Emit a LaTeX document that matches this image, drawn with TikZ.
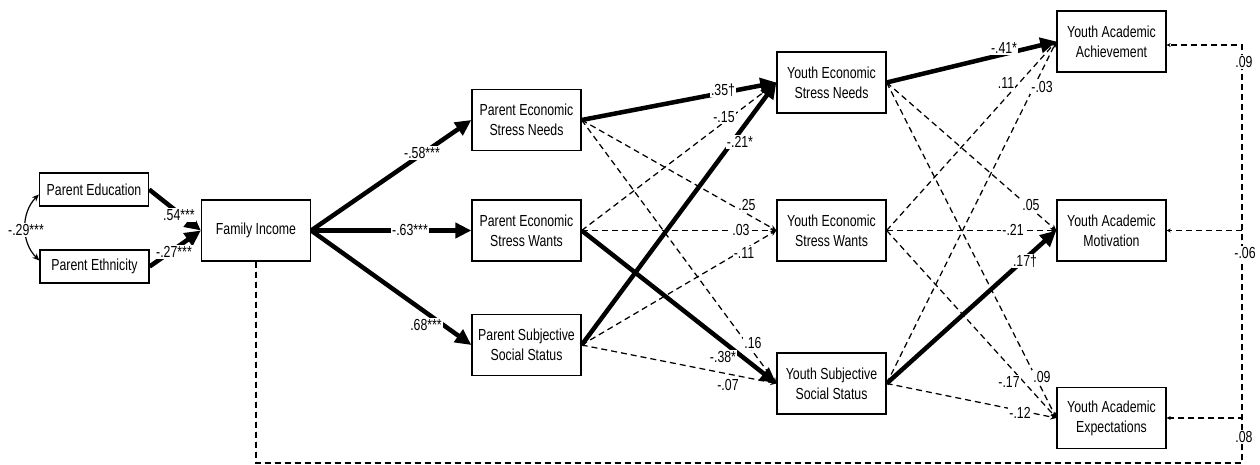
\documentclass[tikz,border=0pt]{standalone}
\usepackage{fontspec}
\setmainfont{Liberation Sans}[FakeStretch=0.77]
\usetikzlibrary{arrows.meta}
\tikzset{
  box/.style={draw, line width=1.3pt, minimum width=109pt, minimum height=61pt, inner sep=0pt, align=center, font=\fontsize{16}{20}\selectfont},
  sbox/.style={box, minimum height=33pt},
  strong/.style={line width=4.5pt, -{Triangle[length=16pt,width=15pt]}},
  weak/.style={line width=1.25pt, dash pattern=on 6pt off 4pt, -{Stealth[length=6pt,width=5.5pt]}},
  weakend/.style={weak, -{Stealth[length=4pt,width=4pt]}},
  corr/.style={line width=1.2pt, {Stealth[length=7pt,width=6pt]}-{Stealth[length=7pt,width=6pt]}},
  coef/.style={fill=white, inner sep=1pt, font=\fontsize{16}{18}\selectfont},
}
\begin{document}
\begin{tikzpicture}[x=1pt,y=-1pt]
\useasboundingbox (0,0) rectangle (1260,465);
% nodes
\node[sbox] (pe) at (94,189.5) {Parent Education};
\node[sbox] (peth) at (94.5,266.5) {Parent Ethnicity};
\node[box] (fi) at (256,230.5) {Family Income};
\node[box] (pn) at (526.5,120) {Parent Economic\\Stress Needs};
\node[box] (pw) at (526.5,230.5) {Parent Economic\\Stress Wants};
\node[box] (ps) at (526.5,345) {Parent Subjective\\Social Status};
\node[box] (yn) at (831.5,82.5) {Youth Economic\\Stress Needs};
\node[box] (yw) at (831.5,230.5) {Youth Economic\\Stress Wants};
\node[box] (ys) at (831.5,383.5) {Youth Subjective\\Social Status};
\node[box] (ach) at (1111.5,41.5) {Youth Academic\\Achievement};
\node[box] (mot) at (1111.5,230.5) {Youth Academic\\Motivation};
\node[box] (exp) at (1111.5,418) {Youth Academic\\Expectations};
\coordinate (br) at (1242,463);
% correlation
\draw[corr] ([yshift=-5pt]pe.west) to[bend right=45] ([yshift=6pt]peth.west);
% edges
\draw[strong] (pe.east) -- (fi.west);
\draw[strong] (peth.east) -- (fi.west);
\draw[strong] (fi.east) -- (pn.west);
\draw[strong] (fi.east) -- (pw.west);
\draw[strong] (fi.east) -- (ps.west);
\draw[strong] (pn.east) -- (yn.west);
\draw[weak] (pn.east) -- (yw.west);
\draw[weak] (pn.east) -- (ys.west);
\draw[weak] (pw.east) -- (yn.west);
\draw[weak] (pw.east) -- (yw.west);
\draw[strong] (pw.east) -- (ys.west);
\draw[strong] (ps.east) -- (yn.west);
\draw[weak] (ps.east) -- (yw.west);
\draw[weak] (ps.east) -- (ys.west);
\draw[strong] (yn.east) -- (ach.west);
\draw[weak] (yn.east) -- (mot.west);
\draw[weak] (yn.east) -- (exp.west);
\draw[weak] (yw.east) -- (ach.west);
\draw[weak] (yw.east) -- (mot.west);
\draw[weak] (yw.east) -- (exp.west);
\draw[weak] (ys.east) -- (ach.west);
\draw[strong] (ys.east) -- (mot.west);
\draw[weak] (ys.east) -- (exp.west);
% family income to outcomes
\draw[weakend] (fi.south) |- (br) |- ([yshift=-3.5pt]ach.east);
\draw[weakend] (fi.south) |- (br) |- (mot.east);
\draw[weakend] (fi.south) |- (br) |- (exp.east);
% coefficients
\node[coef] (c1) at (26,230) {-.29***};
\node[coef] (c2) at (179,215) {.54***};
\node[coef] (c3) at (174,252) {-.27***};
\node[coef] (c4) at (422,153) {-.58***};
\node[coef] (c5) at (410,230) {-.63***};
\node[coef] (c6) at (426,325) {.68***};
\node[coef] (c7) at (723,90) {.35†};
\node[coef] (c8) at (724,117) {-.15};
\node[coef] (c9) at (740,142) {-.21*};
\node[coef] (c10) at (747,205) {.25};
\node[coef] (c11) at (741,230) {.03};
\node[coef] (c12) at (744,253) {-.11};
\node[coef] (c13) at (753,343) {.16};
\node[coef] (c14) at (723,357) {-.38*};
\node[coef] (c15) at (728,385) {-.07};
\node[coef] (c16) at (1004,48) {-.41*};
\node[coef] (c17) at (1006,83) {.11};
\node[coef] (c18) at (1042,87) {-.03};
\node[coef] (c19) at (1031,205) {.05};
\node[coef] (c20) at (1013,230) {-.21};
\node[coef] (c21) at (1025,261) {.17†};
\node[coef] (c22) at (1009,382) {-.17};
\node[coef] (c23) at (1042,377) {.09};
\node[coef] (c24) at (1020,413) {-.12};
\node[coef] (c25) at (1244,62) {.09};
\node[coef] (c26) at (1245,253) {-.06};
\node[coef] (c27) at (1244,437) {.08};
\end{tikzpicture}
\end{document}
